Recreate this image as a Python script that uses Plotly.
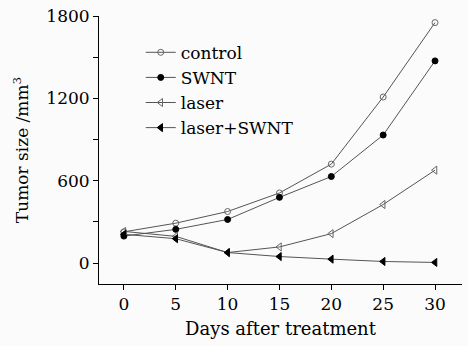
import plotly.graph_objects as go

days = [0, 5, 10, 15, 20, 25, 30]
control = [228, 291, 376, 511, 721, 1210, 1752]
swnt = [197, 246, 318, 479, 631, 933, 1473]
laser = [231, 195, 77, 118, 215, 427, 677]
laser_swnt = [210, 178, 77, 48, 29, 12, 5]

x_tickvals = [0, 5, 10, 15, 20, 25, 30]

FONT = "DejaVu Serif"
LINE = "#555555"

series = [
    ("control", control, "circle-open", "#666666", 6),
    ("SWNT", swnt, "circle", "black", 6),
    ("laser", laser, "triangle-left-open", "#666666", 7),
    ("laser+SWNT", laser_swnt, "triangle-left", "black", 7),
]

fig = go.Figure()
for name, vals, sym, mcol, ms in series:
    fig.add_trace(go.Scatter(
        x=days, y=vals, mode="lines+markers", name=name,
        line=dict(color=LINE, width=1),
        marker=dict(symbol=sym, size=ms, color=mcol,
                    line=dict(color=mcol, width=1)),
    ))

fig.update_layout(
    width=468, height=346,
    margin=dict(l=99, r=6, t=14, b=62),
    paper_bgcolor="#fbfbfb", plot_bgcolor="#fbfbfb",
    font=dict(family=FONT, size=17, color="black"),
    showlegend=True,
    legend=dict(x=0.115, y=0.93, xanchor="left", yanchor="top",
                bgcolor="rgba(0,0,0,0)", font=dict(size=17, family=FONT),
                tracegroupgap=0, itemwidth=30),
    xaxis=dict(range=[-2.4, 32.6], tickvals=x_tickvals,
               showline=True, linecolor="black", linewidth=1,
               ticks="outside", ticklen=5, tickcolor="black",
               showgrid=False, zeroline=False,
               title=dict(text="Days after treatment", font=dict(size=18), standoff=8)),
    yaxis=dict(range=[-152, 1800], tick0=0, dtick=600,
               showline=True, linecolor="black", linewidth=1,
               ticks="outside", ticklen=5, tickcolor="black",
               minor=dict(dtick=300, ticks="outside", ticklen=5, tickcolor="black", showgrid=False),
               showgrid=False, zeroline=False,
               title=dict(text="Tumor size /mm<sup>3</sup>", font=dict(size=17), standoff=13)),
)

fig.write_html("out.html")
